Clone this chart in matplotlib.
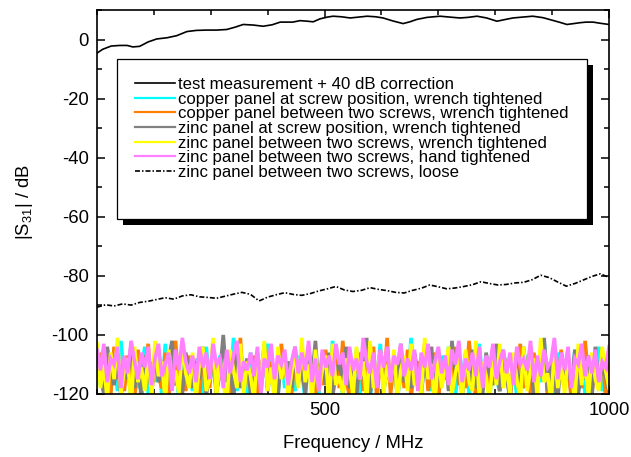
import numpy as np
import matplotlib
matplotlib.use("Agg")
import matplotlib.pyplot as plt
from matplotlib.patches import Rectangle
from matplotlib.ticker import MultipleLocator

plt.rcParams['font.family'] = ['Liberation Sans', 'DejaVu Sans']
plt.rcParams['mathtext.fontset'] = 'custom'
plt.rcParams['mathtext.rm'] = 'Liberation Sans'
plt.rcParams['axes.unicode_minus'] = False

# ---------------- data ----------------
labels = [
    "test measurement + 40 dB correction",
    "copper panel at screw position, wrench tightened",
    "copper panel between two screws, wrench tightened",
    "zinc panel at screw position, wrench tightened",
    "zinc panel between two screws, wrench tightened",
    "zinc panel between two screws, hand tightened",
    "zinc panel between two screws, loose",
]

freq_test = [100, 110, 125, 140, 153, 163, 175, 190, 205, 223,
             240, 258, 275, 293, 310, 328, 343, 357, 375, 392,
             408, 422, 444, 457, 470, 480, 492, 505, 515, 530,
             545, 560, 575, 590, 603, 620, 638, 650, 662, 680,
             703, 720, 738, 752, 768, 785, 803, 818, 831, 848,
             866, 884, 901, 914, 926, 938, 949, 960, 972, 985, 1000]
s31_test = [-4.6, -3.3, -2.2, -2.0, -2.0, -2.5, -2.3, -0.8, 0.2, 0.6,
            1.3, 2.7, 3.1, 3.2, 3.2, 3.4, 4.2, 5.1, 4.9, 4.5,
            5.0, 5.9, 5.9, 6.4, 6.2, 6.0, 7.0, 7.6, 7.9, 7.7,
            7.3, 7.6, 7.9, 7.7, 7.3, 6.3, 5.4, 6.0, 6.8, 7.5,
            7.9, 7.6, 7.3, 7.5, 7.9, 7.3, 6.2, 6.8, 7.3, 7.6,
            7.9, 7.4, 6.5, 5.8, 5.1, 5.4, 5.7, 5.9, 5.9, 5.5, 5.1]

freq_loose = np.linspace(100, 1000, 61)
s31_loose = [-90.6, -89.8, -90.2, -89.5, -89.9, -89.0, -88.6, -88.0, -87.4, -87.9,
             -86.8, -86.4, -87.1, -87.3, -87.6, -86.9, -86.2, -85.6, -86.3, -88.5,
             -87.2, -86.4, -85.7, -86.3, -86.6, -86.0, -85.1, -84.4, -83.6, -84.8,
             -85.3, -84.9, -84.0, -84.6, -85.0, -85.6, -85.8, -84.9, -84.2, -83.1,
             -83.7, -84.4, -84.1, -83.6, -83.0, -82.0, -82.6, -83.1, -82.9, -82.4,
             -82.2, -81.3, -79.8, -80.6, -82.1, -83.5, -82.6, -81.4, -80.2, -79.3, -80.6]

freq_noise = np.linspace(100, 1000, 151)
s31_cu_screw = [
    -110, -117, -105, -121, -113, -108, -119, -102, -115, -111, -122, -106, -118, -112, -104,
    -120, -109, -116, -107, -121, -103, -114, -118, -110, -122, -105, -117, -111, -119, -108,
    -113, -120, -104, -116, -109, -121, -107, -115, -112, -118, -101, -119, -110, -114, -122,
    -106, -117, -111, -120, -108, -103, -116, -113, -121, -105, -118, -109, -115, -119, -107,
    -112, -122, -104, -117, -110, -120, -106, -114, -119, -102, -116, -111, -121, -108, -113,
    -118, -105, -120, -112, -107, -122, -109, -115, -103, -119, -111, -117, -106, -121, -114,
    -108, -118, -101, -116, -112, -120, -105, -113, -119, -110, -122, -107, -115, -104, -117,
    -121, -109, -114, -106, -120, -111, -118, -103, -116, -113, -122, -108, -115, -119, -105,
    -112, -117, -110, -121, -104, -118, -107, -114, -120, -109, -116, -102, -119, -111, -122,
    -106, -113, -118, -108, -121, -105, -115, -110, -120, -107, -117, -112, -104, -119, -114,
    -116]
s31_cu_between = [
    -112, -106, -118, -109, -121, -104, -115, -110, -119, -107, -113, -122, -105, -117, -111,
    -103, -120, -108, -114, -118, -106, -121, -110, -102, -116, -112, -119, -107, -115, -109,
    -122, -105, -113, -118, -104, -120, -111, -116, -108, -121, -106, -114, -101, -119, -110,
    -117, -107, -122, -112, -105, -118, -109, -115, -120, -103, -113, -111, -121, -106, -116,
    -108, -119, -104, -114, -122, -110, -117, -105, -120, -112, -107, -118, -102, -115, -121,
    -109, -113, -106, -119, -111, -116, -104, -122, -108, -117, -101, -120, -110, -114, -107,
    -118, -105, -121, -112, -109, -116, -103, -119, -113, -106, -122, -110, -115, -108, -120,
    -104, -117, -111, -118, -102, -114, -121, -107, -116, -109, -120, -105, -113, -119, -106,
    -111, -122, -108, -115, -103, -118, -112, -120, -106, -117, -110, -104, -121, -114, -109,
    -119, -105, -116, -111, -122, -107, -113, -118, -102, -115, -120, -108, -114, -106, -121,
    -110]
s31_zn_screw = [
    -108, -114, -120, -104, -112, -117, -106, -121, -110, -115, -103, -118, -109, -122, -107,
    -113, -119, -105, -116, -111, -121, -108, -102, -117, -114, -120, -106, -112, -118, -109,
    -115, -104, -121, -111, -107, -119, -113, -100, -116, -110, -122, -105, -118, -112, -108,
    -120, -114, -106, -117, -103, -119, -111, -115, -121, -107, -113, -109, -118, -104, -116,
    -112, -120, -108, -114, -102, -119, -110, -117, -106, -121, -113, -109, -116, -104, -118,
    -111, -122, -107, -115, -101, -120, -112, -117, -105, -119, -110, -114, -108, -121, -103,
    -116, -112, -118, -106, -113, -120, -109, -115, -104, -122, -111, -117, -107, -119, -102,
    -114, -110, -121, -108, -116, -105, -118, -112, -120, -106, -113, -117, -103, -119, -110,
    -115, -121, -107, -112, -118, -104, -116, -111, -120, -108, -114, -101, -119, -109, -117,
    -122, -106, -113, -110, -118, -105, -120, -112, -115, -107, -121, -104, -117, -111, -114,
    -119]
s31_zn_wrench = [
    -103, -118, -110, -122, -106, -115, -101, -120, -112, -108, -124, -104, -116, -111, -119,
    -107, -121, -102, -114, -109, -123, -105, -117, -112, -120, -103, -113, -118, -106, -122,
    -110, -104, -119, -115, -101, -121, -108, -116, -124, -105, -112, -118, -103, -120, -109,
    -114, -122, -106, -117, -102, -119, -111, -123, -104, -115, -108, -121, -113, -106, -118,
    -101, -116, -110, -122, -105, -119, -112, -107, -124, -103, -117, -114, -120, -108, -111,
    -121, -104, -115, -109, -123, -102, -118, -113, -106, -120, -110, -116, -105, -122, -112,
    -107, -119, -103, -117, -114, -121, -101, -115, -110, -124, -106, -118, -111, -104, -120,
    -113, -108, -122, -105, -116, -119, -102, -121, -109, -114, -123, -107, -117, -103, -118,
    -111, -120, -106, -115, -122, -104, -119, -112, -108, -121, -101, -116, -113, -123, -105,
    -118, -110, -120, -107, -114, -122, -103, -117, -109, -121, -106, -115, -119, -104, -112,
    -118]
s31_zn_hand = [
    -105, -112, -103, -116, -108, -110, -104, -118, -107, -113, -102, -109, -115, -106, -111,
    -104, -117, -108, -103, -114, -110, -106, -119, -105, -112, -101, -109, -113, -107, -116,
    -104, -111, -106, -115, -103, -110, -108, -118, -105, -113, -107, -102, -116, -109, -112,
    -106, -114, -104, -120, -108, -111, -103, -115, -107, -110, -105, -117, -109, -104, -113,
    -106, -112, -102, -116, -108, -119, -105, -111, -107, -114, -103, -110, -106, -117, -104,
    -112, -108, -115, -101, -109, -113, -106, -118, -105, -111, -104, -116, -107, -110, -103,
    -114, -108, -112, -105, -119, -106, -111, -103, -115, -109, -104, -113, -107, -117, -105,
    -110, -102, -116, -108, -112, -106, -114, -104, -118, -107, -111, -103, -115, -109, -105,
    -113, -106, -117, -104, -110, -108, -112, -102, -116, -107, -114, -105, -111, -109, -101,
    -115, -106, -112, -104, -118, -108, -110, -103, -114, -107, -113, -105, -116, -109, -111,
    -104]

colors = ['black', '#00FFFF', '#FF8000', '#808080', '#FFFF00', '#FF80FF', 'black']

# ---------------- figure ----------------
W, H = 631, 457
fig = plt.figure(figsize=(W / 100, H / 100), dpi=100)
L, R, T, B = 97, 609, 10, 394
ax = fig.add_axes([L / W, 1 - B / H, (R - L) / W, (B - T) / H])

noise = [s31_cu_screw, s31_cu_between, s31_zn_screw, s31_zn_wrench, s31_zn_hand]
ax.plot(freq_test, s31_test, color=colors[0], lw=1.2, label=labels[0])
for i, ser in enumerate(noise):
    ax.plot(freq_noise, ser, color=colors[i + 1], lw=2.6, label=labels[i + 1],
            solid_joinstyle='miter')
ax.plot(freq_loose, s31_loose, color='black', lw=1.2,
        linestyle=(0, (3, 1.2, 0.9, 1.2)), label=labels[6])

ax.set_xlim(100, 1000)
ax.set_ylim(-120, 10)
ax.xaxis.set_major_locator(MultipleLocator(500))
ax.xaxis.set_minor_locator(MultipleLocator(100))
ax.yaxis.set_major_locator(MultipleLocator(20))
ax.yaxis.set_minor_locator(MultipleLocator(10))
ax.tick_params(which='both', direction='in', top=True, right=True,
               labelsize=13.3, width=1.1)
ax.tick_params(which='major', length=6, pad=6)
ax.tick_params(which='minor', length=3.5)
for sp in ax.spines.values():
    sp.set_linewidth(1.2)

ax.set_xlabel('Frequency / MHz', fontsize=13.3, labelpad=11)
ax.set_ylabel(r'$\mathregular{|S_{31}|}$ / dB', fontsize=13.3, labelpad=12)

# legend frame with hard black shadow (Origin style)
def axc(px, py):
    return (px - L) / (R - L), (B - py) / (B - T)

fx0, fy1 = axc(117, 219)
fx1, fy0 = axc(587, 59)
sh = 6
ax.add_patch(Rectangle(axc(117 + sh, 219 + sh), fx1 - fx0, fy0 - fy1,
                       transform=ax.transAxes, facecolor='black', edgecolor='none',
                       zorder=4, clip_on=False))
ax.add_patch(Rectangle((fx0, fy1), fx1 - fx0, fy0 - fy1,
                       transform=ax.transAxes, facecolor='white', edgecolor='black',
                       lw=0.9, zorder=4.2, clip_on=False))

fs = 12.1
fpx = fs * 100 / 72
leg = ax.legend(loc='upper left', bbox_to_anchor=axc(135, 77), frameon=False,
                fontsize=fs, borderpad=0, borderaxespad=0,
                handlelength=40 / fpx, handletextpad=3 / fpx,
                labelspacing=-0.02)
leg.set_zorder(5)
for h in leg.get_lines()[1:6]:
    h.set_linewidth(1.6)

fig.savefig('out.png', dpi=100)
